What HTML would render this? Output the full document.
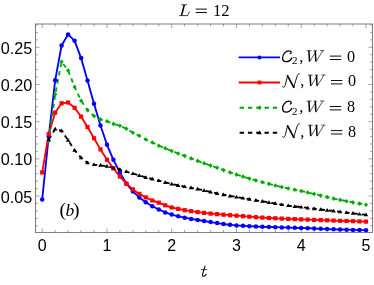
<!DOCTYPE html>
<html><head><meta charset="utf-8"><title>plot</title>
<style>
html,body{margin:0;padding:0;background:#fff;}
body{width:374px;height:285px;overflow:hidden;position:relative;}
svg{position:absolute;left:0;top:0;display:block;will-change:transform;}
.sans{font-family:"Liberation Sans",sans-serif;font-size:16px;fill:#000;}
.ser{font-family:"Liberation Serif",serif;font-size:17px;fill:#000;}
.it{font-style:italic;}
</style></head><body>
<svg width="374" height="285" viewBox="0 0 374 285">
<rect x="0" y="0" width="374" height="285" fill="#fff"/>
<path d="M42.20 232.4v-4.0M42.20 24.0v4.0M55.15 232.4v-2.4M55.15 24.0v2.4M68.10 232.4v-2.4M68.10 24.0v2.4M81.06 232.4v-2.4M81.06 24.0v2.4M94.01 232.4v-2.4M94.01 24.0v2.4M106.96 232.4v-4.0M106.96 24.0v4.0M119.91 232.4v-2.4M119.91 24.0v2.4M132.86 232.4v-2.4M132.86 24.0v2.4M145.82 232.4v-2.4M145.82 24.0v2.4M158.77 232.4v-2.4M158.77 24.0v2.4M171.72 232.4v-4.0M171.72 24.0v4.0M184.67 232.4v-2.4M184.67 24.0v2.4M197.62 232.4v-2.4M197.62 24.0v2.4M210.58 232.4v-2.4M210.58 24.0v2.4M223.53 232.4v-2.4M223.53 24.0v2.4M236.48 232.4v-4.0M236.48 24.0v4.0M249.43 232.4v-2.4M249.43 24.0v2.4M262.38 232.4v-2.4M262.38 24.0v2.4M275.34 232.4v-2.4M275.34 24.0v2.4M288.29 232.4v-2.4M288.29 24.0v2.4M301.24 232.4v-4.0M301.24 24.0v4.0M314.19 232.4v-2.4M314.19 24.0v2.4M327.14 232.4v-2.4M327.14 24.0v2.4M340.10 232.4v-2.4M340.10 24.0v2.4M353.05 232.4v-2.4M353.05 24.0v2.4M366.00 232.4v-4.0M366.00 24.0v4.0M35.5 225.76h2.4M372.5 225.76h-2.4M35.5 218.33h2.4M372.5 218.33h-2.4M35.5 210.89h2.4M372.5 210.89h-2.4M35.5 203.46h2.4M372.5 203.46h-2.4M35.5 196.02h4.0M372.5 196.02h-4.0M35.5 188.59h2.4M372.5 188.59h-2.4M35.5 181.15h2.4M372.5 181.15h-2.4M35.5 173.72h2.4M372.5 173.72h-2.4M35.5 166.28h2.4M372.5 166.28h-2.4M35.5 158.85h4.0M372.5 158.85h-4.0M35.5 151.41h2.4M372.5 151.41h-2.4M35.5 143.98h2.4M372.5 143.98h-2.4M35.5 136.54h2.4M372.5 136.54h-2.4M35.5 129.11h2.4M372.5 129.11h-2.4M35.5 121.67h4.0M372.5 121.67h-4.0M35.5 114.24h2.4M372.5 114.24h-2.4M35.5 106.80h2.4M372.5 106.80h-2.4M35.5 99.37h2.4M372.5 99.37h-2.4M35.5 91.93h2.4M372.5 91.93h-2.4M35.5 84.50h4.0M372.5 84.50h-4.0M35.5 77.06h2.4M372.5 77.06h-2.4M35.5 69.63h2.4M372.5 69.63h-2.4M35.5 62.19h2.4M372.5 62.19h-2.4M35.5 54.76h2.4M372.5 54.76h-2.4M35.5 47.32h4.0M372.5 47.32h-4.0M35.5 39.89h2.4M372.5 39.89h-2.4M35.5 32.45h2.4M372.5 32.45h-2.4M35.5 25.02h2.4M372.5 25.02h-2.4" stroke="#666" stroke-width="0.6" fill="none"/>
<rect x="35.5" y="24.0" width="337.0" height="208.4" fill="none" stroke="#666" stroke-width="0.85"/>
<clipPath id="c"><rect x="35.5" y="24.0" width="337.0" height="208.4"/></clipPath>
<g clip-path="url(#c)">
<polyline points="42.2,199.5 48.7,136.5 55.2,80.2 61.6,45.5 68.1,34.4 74.6,40.8 81.1,58.1 87.5,80.6 94.0,103.8 100.5,125.5 107.0,144.8 113.4,159.8 119.9,172.4 126.4,183.7 132.9,191.5 139.3,197.4 145.8,202.3 152.3,206.2 158.8,209.5 165.2,212.4 171.7,214.6 178.2,216.3 184.7,217.7 191.1,218.9 197.6,220.0 204.1,221.0 210.6,222.1 217.1,223.1 223.5,224.0 230.0,224.8 236.5,225.4 243.0,225.8 249.4,226.2 255.9,226.5 262.4,226.8 268.9,227.0 275.3,227.2 281.8,227.4 288.3,227.6 294.8,227.8 301.2,228.0 307.7,228.2 314.2,228.5 320.7,228.8 327.1,229.1 333.6,229.3 340.1,229.5 346.6,229.7 353.0,229.9 359.5,230.1 366.0,230.2" fill="none" stroke="#0000ff" stroke-width="1.85" stroke-linejoin="round"/>
<polyline points="42.2,172.4 48.7,134.2 55.2,112.6 61.6,103.3 68.1,102.5 74.6,107.8 81.1,116.6 87.5,127.0 94.0,138.3 100.5,149.4 107.0,159.8 113.4,168.3 119.9,176.6 126.4,183.7 132.9,189.4 139.3,193.9 145.8,197.4 152.3,200.5 158.8,202.7 165.2,205.3 171.7,207.5 178.2,208.9 184.7,210.2 191.1,211.2 197.6,212.1 204.1,212.9 210.6,213.6 217.1,214.2 223.5,214.7 230.0,215.2 236.5,215.7 243.0,216.2 249.4,216.7 255.9,217.2 262.4,217.6 268.9,218.0 275.3,218.3 281.8,218.6 288.3,218.9 294.8,219.1 301.2,219.4 307.7,219.6 314.2,219.9 320.7,220.1 327.1,220.3 333.6,220.6 340.1,220.8 346.6,221.0 353.0,221.2 359.5,221.4 366.0,221.6" fill="none" stroke="#ff0000" stroke-width="1.85" stroke-linejoin="round"/>
<polyline points="48.7,141.0 55.2,94.4 61.6,61.8 68.1,70.5 74.6,86.9 81.1,100.7 87.5,110.1 94.0,116.1 100.5,119.4 107.0,121.3 113.4,123.9 119.9,125.8 126.4,128.7 132.9,132.7 139.3,135.8 145.8,139.5 152.3,142.5 158.8,145.7 165.2,148.2 171.7,151.0 178.2,153.5 184.7,155.9 191.1,158.4 197.6,160.9 204.1,163.3 210.6,165.6 217.1,167.8 223.5,170.1 230.0,172.4 236.5,174.6 243.0,176.6 249.4,178.6 255.9,180.4 262.4,182.2 268.9,183.9 275.3,185.5 281.8,187.1 288.3,188.5 294.8,189.8 301.2,191.0 307.7,192.5 314.2,194.0 320.7,195.6 327.1,197.1 333.6,198.6 340.1,199.9 346.6,201.2 353.0,202.4 359.5,203.6 366.0,204.7" fill="none" stroke="#00aa00" stroke-width="1.85" stroke-dasharray="4.4 3.9" stroke-linejoin="round"/>
<polyline points="48.7,139.7 55.2,128.9 61.6,130.8 68.1,140.2 74.6,150.2 81.1,157.8 87.5,162.8 94.0,164.6 100.5,165.2 107.0,166.3 113.4,167.9 119.9,169.5 126.4,171.6 132.9,173.6 139.3,175.4 145.8,177.4 152.3,179.0 158.8,180.6 165.2,182.4 171.7,184.0 178.2,185.4 184.7,186.6 191.1,187.8 197.6,189.0 204.1,190.4 210.6,191.9 217.1,193.4 223.5,194.7 230.0,195.9 236.5,197.0 243.0,198.1 249.4,199.2 255.9,200.3 262.4,201.3 268.9,202.4 275.3,203.5 281.8,204.6 288.3,205.6 294.8,206.4 301.2,207.1 307.7,207.9 314.2,208.7 320.7,209.5 327.1,210.3 333.6,211.0 340.1,211.8 346.6,212.6 353.0,213.3 359.5,214.1 366.0,214.8" fill="none" stroke="#000" stroke-width="1.85" stroke-dasharray="4.4 3.9" stroke-linejoin="round"/>
<g fill="#0000ff"><circle cx="42.2" cy="199.5" r="2.25"/><circle cx="48.7" cy="136.5" r="2.25"/><circle cx="55.2" cy="80.2" r="2.25"/><circle cx="61.6" cy="45.5" r="2.25"/><circle cx="68.1" cy="34.4" r="2.25"/><circle cx="74.6" cy="40.8" r="2.25"/><circle cx="81.1" cy="58.1" r="2.25"/><circle cx="87.5" cy="80.6" r="2.25"/><circle cx="94.0" cy="103.8" r="2.25"/><circle cx="100.5" cy="125.5" r="2.25"/><circle cx="107.0" cy="144.8" r="2.25"/><circle cx="113.4" cy="159.8" r="2.25"/><circle cx="119.9" cy="172.4" r="2.25"/><circle cx="126.4" cy="183.7" r="2.25"/><circle cx="132.9" cy="191.5" r="2.25"/><circle cx="139.3" cy="197.4" r="2.25"/><circle cx="145.8" cy="202.3" r="2.25"/><circle cx="152.3" cy="206.2" r="2.25"/><circle cx="158.8" cy="209.5" r="2.25"/><circle cx="165.2" cy="212.4" r="2.25"/><circle cx="171.7" cy="214.6" r="2.25"/><circle cx="178.2" cy="216.3" r="2.25"/><circle cx="184.7" cy="217.7" r="2.25"/><circle cx="191.1" cy="218.9" r="2.25"/><circle cx="197.6" cy="220.0" r="2.25"/><circle cx="204.1" cy="221.0" r="2.25"/><circle cx="210.6" cy="222.1" r="2.25"/><circle cx="217.1" cy="223.1" r="2.25"/><circle cx="223.5" cy="224.0" r="2.25"/><circle cx="230.0" cy="224.8" r="2.25"/><circle cx="236.5" cy="225.4" r="2.25"/><circle cx="243.0" cy="225.8" r="2.25"/><circle cx="249.4" cy="226.2" r="2.25"/><circle cx="255.9" cy="226.5" r="2.25"/><circle cx="262.4" cy="226.8" r="2.25"/><circle cx="268.9" cy="227.0" r="2.25"/><circle cx="275.3" cy="227.2" r="2.25"/><circle cx="281.8" cy="227.4" r="2.25"/><circle cx="288.3" cy="227.6" r="2.25"/><circle cx="294.8" cy="227.8" r="2.25"/><circle cx="301.2" cy="228.0" r="2.25"/><circle cx="307.7" cy="228.2" r="2.25"/><circle cx="314.2" cy="228.5" r="2.25"/><circle cx="320.7" cy="228.8" r="2.25"/><circle cx="327.1" cy="229.1" r="2.25"/><circle cx="333.6" cy="229.3" r="2.25"/><circle cx="340.1" cy="229.5" r="2.25"/><circle cx="346.6" cy="229.7" r="2.25"/><circle cx="353.0" cy="229.9" r="2.25"/><circle cx="359.5" cy="230.1" r="2.25"/><circle cx="366.0" cy="230.2" r="2.25"/></g>
<g fill="#ff0000"><rect x="40.1" y="170.3" width="4.2" height="4.2"/><rect x="46.6" y="132.1" width="4.2" height="4.2"/><rect x="53.1" y="110.5" width="4.2" height="4.2"/><rect x="59.5" y="101.2" width="4.2" height="4.2"/><rect x="66.0" y="100.4" width="4.2" height="4.2"/><rect x="72.5" y="105.7" width="4.2" height="4.2"/><rect x="79.0" y="114.5" width="4.2" height="4.2"/><rect x="85.4" y="124.9" width="4.2" height="4.2"/><rect x="91.9" y="136.2" width="4.2" height="4.2"/><rect x="98.4" y="147.3" width="4.2" height="4.2"/><rect x="104.9" y="157.7" width="4.2" height="4.2"/><rect x="111.3" y="166.2" width="4.2" height="4.2"/><rect x="117.8" y="174.5" width="4.2" height="4.2"/><rect x="124.3" y="181.6" width="4.2" height="4.2"/><rect x="130.8" y="187.3" width="4.2" height="4.2"/><rect x="137.2" y="191.8" width="4.2" height="4.2"/><rect x="143.7" y="195.3" width="4.2" height="4.2"/><rect x="150.2" y="198.4" width="4.2" height="4.2"/><rect x="156.7" y="200.6" width="4.2" height="4.2"/><rect x="163.1" y="203.2" width="4.2" height="4.2"/><rect x="169.6" y="205.4" width="4.2" height="4.2"/><rect x="176.1" y="206.8" width="4.2" height="4.2"/><rect x="182.6" y="208.1" width="4.2" height="4.2"/><rect x="189.0" y="209.1" width="4.2" height="4.2"/><rect x="195.5" y="210.0" width="4.2" height="4.2"/><rect x="202.0" y="210.8" width="4.2" height="4.2"/><rect x="208.5" y="211.5" width="4.2" height="4.2"/><rect x="215.0" y="212.1" width="4.2" height="4.2"/><rect x="221.4" y="212.6" width="4.2" height="4.2"/><rect x="227.9" y="213.1" width="4.2" height="4.2"/><rect x="234.4" y="213.6" width="4.2" height="4.2"/><rect x="240.9" y="214.1" width="4.2" height="4.2"/><rect x="247.3" y="214.6" width="4.2" height="4.2"/><rect x="253.8" y="215.1" width="4.2" height="4.2"/><rect x="260.3" y="215.5" width="4.2" height="4.2"/><rect x="266.8" y="215.9" width="4.2" height="4.2"/><rect x="273.2" y="216.2" width="4.2" height="4.2"/><rect x="279.7" y="216.5" width="4.2" height="4.2"/><rect x="286.2" y="216.8" width="4.2" height="4.2"/><rect x="292.7" y="217.0" width="4.2" height="4.2"/><rect x="299.1" y="217.3" width="4.2" height="4.2"/><rect x="305.6" y="217.5" width="4.2" height="4.2"/><rect x="312.1" y="217.8" width="4.2" height="4.2"/><rect x="318.6" y="218.0" width="4.2" height="4.2"/><rect x="325.0" y="218.2" width="4.2" height="4.2"/><rect x="331.5" y="218.5" width="4.2" height="4.2"/><rect x="338.0" y="218.7" width="4.2" height="4.2"/><rect x="344.5" y="218.9" width="4.2" height="4.2"/><rect x="350.9" y="219.1" width="4.2" height="4.2"/><rect x="357.4" y="219.3" width="4.2" height="4.2"/><rect x="363.9" y="219.5" width="4.2" height="4.2"/></g>
<g fill="#00aa00"><path d="M48.7 138.7l2.1 2.3l-2.1 2.3l-2.1 -2.3z"/><path d="M55.2 92.1l2.1 2.3l-2.1 2.3l-2.1 -2.3z"/><path d="M61.6 59.5l2.1 2.3l-2.1 2.3l-2.1 -2.3z"/><path d="M68.1 68.2l2.1 2.3l-2.1 2.3l-2.1 -2.3z"/><path d="M74.6 84.6l2.1 2.3l-2.1 2.3l-2.1 -2.3z"/><path d="M81.1 98.4l2.1 2.3l-2.1 2.3l-2.1 -2.3z"/><path d="M87.5 107.8l2.1 2.3l-2.1 2.3l-2.1 -2.3z"/><path d="M94.0 113.8l2.1 2.3l-2.1 2.3l-2.1 -2.3z"/><path d="M100.5 117.1l2.1 2.3l-2.1 2.3l-2.1 -2.3z"/><path d="M107.0 119.0l2.1 2.3l-2.1 2.3l-2.1 -2.3z"/><path d="M113.4 121.6l2.1 2.3l-2.1 2.3l-2.1 -2.3z"/><path d="M119.9 123.5l2.1 2.3l-2.1 2.3l-2.1 -2.3z"/><path d="M126.4 126.4l2.1 2.3l-2.1 2.3l-2.1 -2.3z"/><path d="M132.9 130.4l2.1 2.3l-2.1 2.3l-2.1 -2.3z"/><path d="M139.3 133.5l2.1 2.3l-2.1 2.3l-2.1 -2.3z"/><path d="M145.8 137.2l2.1 2.3l-2.1 2.3l-2.1 -2.3z"/><path d="M152.3 140.2l2.1 2.3l-2.1 2.3l-2.1 -2.3z"/><path d="M158.8 143.4l2.1 2.3l-2.1 2.3l-2.1 -2.3z"/><path d="M165.2 145.9l2.1 2.3l-2.1 2.3l-2.1 -2.3z"/><path d="M171.7 148.7l2.1 2.3l-2.1 2.3l-2.1 -2.3z"/><path d="M178.2 151.2l2.1 2.3l-2.1 2.3l-2.1 -2.3z"/><path d="M184.7 153.6l2.1 2.3l-2.1 2.3l-2.1 -2.3z"/><path d="M191.1 156.1l2.1 2.3l-2.1 2.3l-2.1 -2.3z"/><path d="M197.6 158.6l2.1 2.3l-2.1 2.3l-2.1 -2.3z"/><path d="M204.1 161.0l2.1 2.3l-2.1 2.3l-2.1 -2.3z"/><path d="M210.6 163.3l2.1 2.3l-2.1 2.3l-2.1 -2.3z"/><path d="M217.1 165.5l2.1 2.3l-2.1 2.3l-2.1 -2.3z"/><path d="M223.5 167.8l2.1 2.3l-2.1 2.3l-2.1 -2.3z"/><path d="M230.0 170.1l2.1 2.3l-2.1 2.3l-2.1 -2.3z"/><path d="M236.5 172.3l2.1 2.3l-2.1 2.3l-2.1 -2.3z"/><path d="M243.0 174.3l2.1 2.3l-2.1 2.3l-2.1 -2.3z"/><path d="M249.4 176.3l2.1 2.3l-2.1 2.3l-2.1 -2.3z"/><path d="M255.9 178.1l2.1 2.3l-2.1 2.3l-2.1 -2.3z"/><path d="M262.4 179.9l2.1 2.3l-2.1 2.3l-2.1 -2.3z"/><path d="M268.9 181.6l2.1 2.3l-2.1 2.3l-2.1 -2.3z"/><path d="M275.3 183.2l2.1 2.3l-2.1 2.3l-2.1 -2.3z"/><path d="M281.8 184.8l2.1 2.3l-2.1 2.3l-2.1 -2.3z"/><path d="M288.3 186.2l2.1 2.3l-2.1 2.3l-2.1 -2.3z"/><path d="M294.8 187.5l2.1 2.3l-2.1 2.3l-2.1 -2.3z"/><path d="M301.2 188.7l2.1 2.3l-2.1 2.3l-2.1 -2.3z"/><path d="M307.7 190.2l2.1 2.3l-2.1 2.3l-2.1 -2.3z"/><path d="M314.2 191.7l2.1 2.3l-2.1 2.3l-2.1 -2.3z"/><path d="M320.7 193.3l2.1 2.3l-2.1 2.3l-2.1 -2.3z"/><path d="M327.1 194.8l2.1 2.3l-2.1 2.3l-2.1 -2.3z"/><path d="M333.6 196.3l2.1 2.3l-2.1 2.3l-2.1 -2.3z"/><path d="M340.1 197.6l2.1 2.3l-2.1 2.3l-2.1 -2.3z"/><path d="M346.6 198.9l2.1 2.3l-2.1 2.3l-2.1 -2.3z"/><path d="M353.0 200.1l2.1 2.3l-2.1 2.3l-2.1 -2.3z"/><path d="M359.5 201.3l2.1 2.3l-2.1 2.3l-2.1 -2.3z"/><path d="M366.0 202.4l2.1 2.3l-2.1 2.3l-2.1 -2.3z"/></g>
<g fill="#000"><path d="M48.7 137.5l2.3 3.7h-4.6z"/><path d="M55.2 126.7l2.3 3.7h-4.6z"/><path d="M61.6 128.6l2.3 3.7h-4.6z"/><path d="M68.1 138.0l2.3 3.7h-4.6z"/><path d="M74.6 148.0l2.3 3.7h-4.6z"/><path d="M81.1 155.6l2.3 3.7h-4.6z"/><path d="M87.5 160.6l2.3 3.7h-4.6z"/><path d="M94.0 162.4l2.3 3.7h-4.6z"/><path d="M100.5 163.0l2.3 3.7h-4.6z"/><path d="M107.0 164.1l2.3 3.7h-4.6z"/><path d="M113.4 165.7l2.3 3.7h-4.6z"/><path d="M119.9 167.3l2.3 3.7h-4.6z"/><path d="M126.4 169.4l2.3 3.7h-4.6z"/><path d="M132.9 171.4l2.3 3.7h-4.6z"/><path d="M139.3 173.2l2.3 3.7h-4.6z"/><path d="M145.8 175.2l2.3 3.7h-4.6z"/><path d="M152.3 176.8l2.3 3.7h-4.6z"/><path d="M158.8 178.4l2.3 3.7h-4.6z"/><path d="M165.2 180.2l2.3 3.7h-4.6z"/><path d="M171.7 181.8l2.3 3.7h-4.6z"/><path d="M178.2 183.2l2.3 3.7h-4.6z"/><path d="M184.7 184.4l2.3 3.7h-4.6z"/><path d="M191.1 185.6l2.3 3.7h-4.6z"/><path d="M197.6 186.8l2.3 3.7h-4.6z"/><path d="M204.1 188.2l2.3 3.7h-4.6z"/><path d="M210.6 189.7l2.3 3.7h-4.6z"/><path d="M217.1 191.2l2.3 3.7h-4.6z"/><path d="M223.5 192.5l2.3 3.7h-4.6z"/><path d="M230.0 193.7l2.3 3.7h-4.6z"/><path d="M236.5 194.8l2.3 3.7h-4.6z"/><path d="M243.0 195.9l2.3 3.7h-4.6z"/><path d="M249.4 197.0l2.3 3.7h-4.6z"/><path d="M255.9 198.1l2.3 3.7h-4.6z"/><path d="M262.4 199.1l2.3 3.7h-4.6z"/><path d="M268.9 200.2l2.3 3.7h-4.6z"/><path d="M275.3 201.3l2.3 3.7h-4.6z"/><path d="M281.8 202.4l2.3 3.7h-4.6z"/><path d="M288.3 203.4l2.3 3.7h-4.6z"/><path d="M294.8 204.2l2.3 3.7h-4.6z"/><path d="M301.2 204.9l2.3 3.7h-4.6z"/><path d="M307.7 205.7l2.3 3.7h-4.6z"/><path d="M314.2 206.5l2.3 3.7h-4.6z"/><path d="M320.7 207.3l2.3 3.7h-4.6z"/><path d="M327.1 208.1l2.3 3.7h-4.6z"/><path d="M333.6 208.8l2.3 3.7h-4.6z"/><path d="M340.1 209.6l2.3 3.7h-4.6z"/><path d="M346.6 210.4l2.3 3.7h-4.6z"/><path d="M353.0 211.1l2.3 3.7h-4.6z"/><path d="M359.5 211.9l2.3 3.7h-4.6z"/><path d="M366.0 212.6l2.3 3.7h-4.6z"/></g>
</g>
<text class="sans" x="32.3" y="202.5" style="font-size:16.2px" text-anchor="end">0.05</text>
<text class="sans" x="32.3" y="165.3" style="font-size:16.2px" text-anchor="end">0.10</text>
<text class="sans" x="32.3" y="128.2" style="font-size:16.2px" text-anchor="end">0.15</text>
<text class="sans" x="32.3" y="91.0" style="font-size:16.2px" text-anchor="end">0.20</text>
<text class="sans" x="32.3" y="53.8" style="font-size:16.2px" text-anchor="end">0.25</text>
<text class="sans" x="42.2" y="250.5" text-anchor="middle">0</text>
<text class="sans" x="107.0" y="250.5" text-anchor="middle">1</text>
<text class="sans" x="171.7" y="250.5" text-anchor="middle">2</text>
<text class="sans" x="236.5" y="250.5" text-anchor="middle">3</text>
<text class="sans" x="301.2" y="250.5" text-anchor="middle">4</text>
<text class="sans" x="366.0" y="250.5" text-anchor="middle">5</text>
<g fill="none" stroke="#000"><path d="M181.4 4.8H187M179.2 15.6H187.7" stroke-width="0.75"/><path d="M184.3 4.8L181.6 15.4" stroke-width="1.5"/><path d="M187.6 15.7C188.3 14.6 188.9 13.1 189.3 11.5" stroke-width="0.7"/></g><path d="M195.7 9.1H206.9M195.7 12.5H206.9" stroke="#000" stroke-width="0.95" fill="none"/><text x="213.0" y="16.0" style="font-family:'Liberation Serif',serif;font-size:16.6px;" fill="#000">1</text><text x="221.2" y="16.0" style="font-family:'Liberation Serif',serif;font-size:16.6px;" fill="#000">2</text>
<text x="59.5" y="216.4" style="font-family:'Liberation Serif',serif;font-size:19.5px;" fill="#000">(</text><text x="65.6" y="216.0" style="font-family:'Liberation Serif',serif;font-size:17.5px;font-style:italic;" fill="#000">b</text><text x="73.0" y="216.4" style="font-family:'Liberation Serif',serif;font-size:19.5px;" fill="#000">)</text>
<g fill="none" stroke="#000" stroke-linecap="round"><path d="M201.2 269.6H206.9" stroke-width="0.7"/><path d="M205.0 266.2L202.7 273.8C202.2 275.6 202.8 276.3 203.7 276.3C204.6 276.3 205.5 275.5 206.1 274.2" stroke-width="1.1"/></g>
<path d="M238.7 57.4H280" stroke="#0000ff" stroke-width="1.85" fill="none"/>
<circle cx="259.5" cy="57.4" r="2.0" fill="#0000ff"/>
<path transform="translate(282.0,62.0)" d="M8.3 -8.4C9.7 -8.9 9.8 -11.2 6.9 -11.2C3.6 -11.2 0.6 -7.6 0.6 -4.0C0.6 -1.6 2.0 -0.3 4.1 -0.3C6.5 -0.3 8.7 -2.0 9.7 -3.9" fill="none" stroke="#000" stroke-width="1.3" stroke-linecap="round"/><text x="292.0" y="64.4" style="font-family:'Liberation Serif',serif;font-size:11px;" fill="#000">2</text><text x="299.2" y="62.0" style="font-family:'Liberation Serif',serif;font-size:16.5px;" fill="#000">,</text><g transform="translate(306.0,62.0)" fill="none" stroke="#000"><path d="M0.7 -11.3H5.4M7.6 -11.3H10.6M14.2 -11.4H18.2" stroke-width="0.7"/><path d="M2.9 -11.3L3.5 -0.6M9.3 -11.3L9.8 -0.6" stroke-width="1.5"/><path d="M3.6 -0.1L9.9 -10.6M9.9 -0.1L16.7 -11.2" stroke-width="0.65"/></g><path d="M329.8 56.1H341.2M329.8 59.5H341.2" stroke="#000" stroke-width="0.95" fill="none"/><text x="347.0" y="62.0" style="font-family:'Liberation Serif',serif;font-size:16.2px;" fill="#000">0</text>
<path d="M238.7 82.5H280" stroke="#ff0000" stroke-width="1.85" fill="none"/>
<rect x="257.6" y="80.6" width="3.8" height="3.8" fill="#ff0000"/>
<g transform="translate(282.0,86.4)" fill="none" stroke="#000" stroke-linecap="round" stroke-linejoin="round"><path d="M0.4 0.2C1.0 1.3 2.5 1.2 3.1 -0.8L5.6 -10.6" stroke-width="0.9"/><path d="M5.6 -10.6L11.8 0.9" stroke-width="1.7"/><path d="M11.8 0.9C13 -3.5 14.4 -8.2 15.3 -10.7C15.8 -12.1 16.5 -12.7 17.4 -12.8" stroke-width="0.9"/></g><text x="300.3" y="86.4" style="font-family:'Liberation Serif',serif;font-size:16.5px;" fill="#000">,</text><g transform="translate(307.2,86.4)" fill="none" stroke="#000"><path d="M0.7 -11.3H5.4M7.6 -11.3H10.6M14.2 -11.4H18.2" stroke-width="0.7"/><path d="M2.9 -11.3L3.5 -0.6M9.3 -11.3L9.8 -0.6" stroke-width="1.5"/><path d="M3.6 -0.1L9.9 -10.6M9.9 -0.1L16.7 -11.2" stroke-width="0.65"/></g><path d="M331.0 80.5H342.4M331.0 83.9H342.4" stroke="#000" stroke-width="0.95" fill="none"/><text x="347.9" y="86.4" style="font-family:'Liberation Serif',serif;font-size:16.2px;" fill="#000">0</text>
<path d="M239.6 107.7H280" stroke="#00aa00" stroke-width="1.85" fill="none" stroke-dasharray="4.4 3.9"/>
<path d="M259.5 105.3l2.2 2.4l-2.2 2.4l-2.2 -2.4z" fill="#00aa00"/>
<path transform="translate(282.0,112.4)" d="M8.3 -8.4C9.7 -8.9 9.8 -11.2 6.9 -11.2C3.6 -11.2 0.6 -7.6 0.6 -4.0C0.6 -1.6 2.0 -0.3 4.1 -0.3C6.5 -0.3 8.7 -2.0 9.7 -3.9" fill="none" stroke="#000" stroke-width="1.3" stroke-linecap="round"/><text x="292.0" y="114.80000000000001" style="font-family:'Liberation Serif',serif;font-size:11px;" fill="#000">2</text><text x="299.2" y="112.4" style="font-family:'Liberation Serif',serif;font-size:16.5px;" fill="#000">,</text><g transform="translate(306.0,112.4)" fill="none" stroke="#000"><path d="M0.7 -11.3H5.4M7.6 -11.3H10.6M14.2 -11.4H18.2" stroke-width="0.7"/><path d="M2.9 -11.3L3.5 -0.6M9.3 -11.3L9.8 -0.6" stroke-width="1.5"/><path d="M3.6 -0.1L9.9 -10.6M9.9 -0.1L16.7 -11.2" stroke-width="0.65"/></g><path d="M329.8 106.5H341.2M329.8 109.9H341.2" stroke="#000" stroke-width="0.95" fill="none"/><text x="347.0" y="112.4" style="font-family:'Liberation Serif',serif;font-size:16.2px;" fill="#000">8</text>
<path d="M239.6 132.7H280" stroke="#000" stroke-width="1.85" fill="none" stroke-dasharray="4.4 3.9"/>
<path d="M259.5 130.5l2.3 3.8h-4.6z" fill="#000"/>
<g transform="translate(282.0,136.5)" fill="none" stroke="#000" stroke-linecap="round" stroke-linejoin="round"><path d="M0.4 0.2C1.0 1.3 2.5 1.2 3.1 -0.8L5.6 -10.6" stroke-width="0.9"/><path d="M5.6 -10.6L11.8 0.9" stroke-width="1.7"/><path d="M11.8 0.9C13 -3.5 14.4 -8.2 15.3 -10.7C15.8 -12.1 16.5 -12.7 17.4 -12.8" stroke-width="0.9"/></g><text x="300.3" y="136.5" style="font-family:'Liberation Serif',serif;font-size:16.5px;" fill="#000">,</text><g transform="translate(307.2,136.5)" fill="none" stroke="#000"><path d="M0.7 -11.3H5.4M7.6 -11.3H10.6M14.2 -11.4H18.2" stroke-width="0.7"/><path d="M2.9 -11.3L3.5 -0.6M9.3 -11.3L9.8 -0.6" stroke-width="1.5"/><path d="M3.6 -0.1L9.9 -10.6M9.9 -0.1L16.7 -11.2" stroke-width="0.65"/></g><path d="M331.0 130.6H342.4M331.0 134.0H342.4" stroke="#000" stroke-width="0.95" fill="none"/><text x="347.9" y="136.5" style="font-family:'Liberation Serif',serif;font-size:16.2px;" fill="#000">8</text>
</svg>
</body></html>
